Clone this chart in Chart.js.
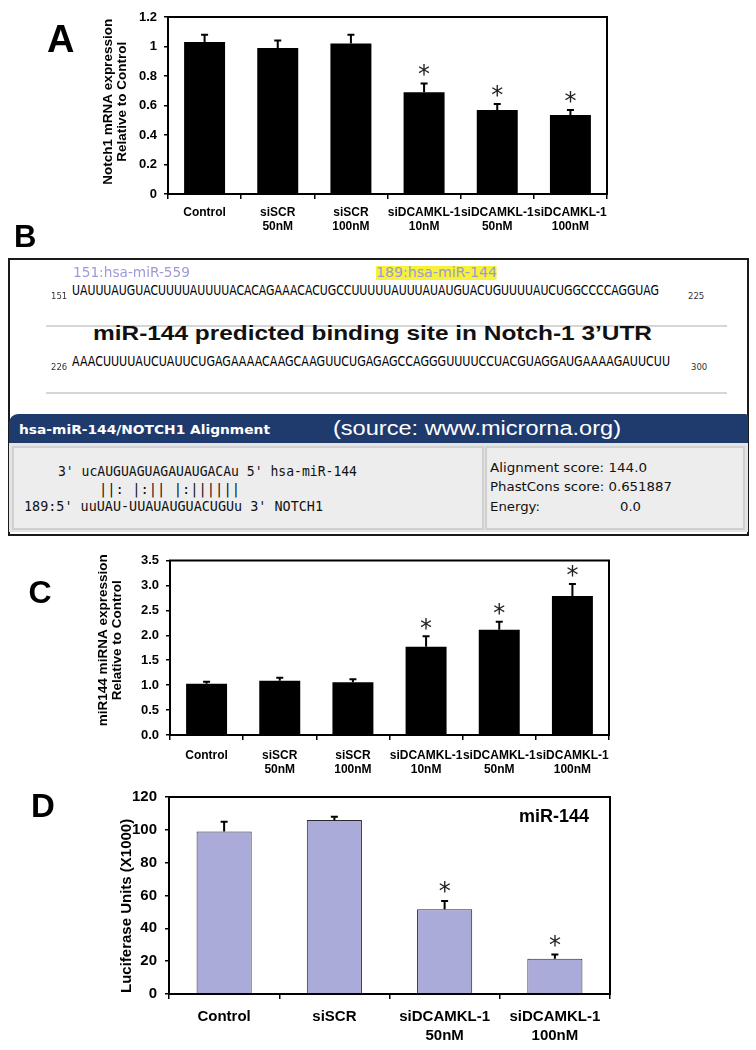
<!DOCTYPE html>
<html>
<head>
<meta charset="utf-8">
<script src="https://cdn.jsdelivr.net/npm/chart.js@4.4.1/dist/chart.umd.min.js"></script>
<style>
  body { margin: 0; background: #fff; }
  #page { position: relative; width: 756px; height: 1050px; overflow: hidden; font-family: 'Liberation Sans', Arial, sans-serif; -webkit-font-smoothing: antialiased; }
  .abs { position: absolute; white-space: pre; line-height: 1; transform-origin: left center; }
  .box { position: absolute; box-sizing: border-box; }
  canvas { position: absolute; left: 0; }
</style>
</head>
<body>
<div id="page">
  <canvas id="chartA" width="756" height="240" style="top:0"></canvas>
  <canvas id="chartC" width="756" height="240" style="top:540px"></canvas>
  <canvas id="chartD" width="756" height="270" style="top:780px"></canvas>
</div>
<script>
// Panel A - Notch1 mRNA
const groups6 = ['Control', ['siSCR', '50nM'], ['siSCR', '100nM'], ['siDCAMKL-1', '10nM'], ['siDCAMKL-1', '50nM'], ['siDCAMKL-1', '100nM']];
const notchMean = [1.03, 0.99, 1.02, 0.69, 0.57, 0.535];
const notchSd = [0.05, 0.05, 0.06, 0.06, 0.04, 0.035];
const notchSig = [false, false, false, true, true, true];
const notchTicks = ['0', '0.2', '0.4', '0.6', '0.8', '1', '1.2'];

// Panel C - miR144 miRNA
const mirMean = [1.03, 1.09, 1.06, 1.77, 2.11, 2.79];
const mirSd = [0.04, 0.06, 0.06, 0.21, 0.16, 0.24];
const mirSig = [false, false, false, true, true, true];
const mirTicks = ['0.0', '0.5', '1.0', '1.5', '2.0', '2.5', '3.0', '3.5'];

// Panel D - luciferase
const lucGroups = ['Control', 'siSCR', ['siDCAMKL-1', '50nM'], ['siDCAMKL-1', '100nM']];
const lucMean = [99, 106, 51.7, 21.5];
const lucSd = [6, 2, 5, 2.5];
const lucSig = [false, false, true, true];
const lucTicks = ['0', '20', '40', '60', '80', '100', '120'];

const ARIAL = "'Liberation Sans', Arial, sans-serif";

// whiskers + significance stars, placed with the chart's own y scale
const errorBars = {
  id: 'errorBars',
  afterDatasetsDraw(chart, args, opts) {
    const ctx = chart.ctx;
    const y = chart.scales.y;
    const vals = chart.data.datasets[0].data;
    ctx.save();
    ctx.strokeStyle = opts.color;
    ctx.lineWidth = opts.lineWidth;
    chart.getDatasetMeta(0).data.forEach((bar, i) => {
      const top = y.getPixelForValue(vals[i] + opts.sd[i]);
      ctx.beginPath();
      ctx.moveTo(bar.x, bar.y);
      ctx.lineTo(bar.x, top);
      ctx.moveTo(bar.x - opts.cap, top);
      ctx.lineTo(bar.x + opts.cap, top);
      ctx.stroke();
      if (opts.sig[i]) {
        ctx.font = opts.starSize + "px 'DejaVu Sans', sans-serif";
        ctx.fillStyle = '#222';
        ctx.textAlign = 'center';
        const m = ctx.measureText('*');
        const cy = top - opts.starGap;
        ctx.fillText('*', bar.x, cy + (m.actualBoundingBoxAscent - m.actualBoundingBoxDescent) / 2);
      }
    });
    ctx.restore();
  }
};

// closed box round the plot area
const frame = {
  id: 'frame',
  afterDraw(chart) {
    const { left, top, right, bottom } = chart.chartArea;
    const ctx = chart.ctx;
    ctx.save();
    ctx.strokeStyle = '#000';
    ctx.lineWidth = 2;
    ctx.strokeRect(left, top, right - left, bottom - top);
    ctx.restore();
  }
};

Chart.register(errorBars, frame);

function barChart(id, o) {
  return new Chart(document.getElementById(id), {
    type: 'bar',
    data: {
      labels: o.labels,
      datasets: [{
        data: o.values,
        backgroundColor: o.fill,
        borderColor: o.edge,
        borderWidth: o.edgeWidth,
        barPercentage: o.barPct,
        categoryPercentage: 1
      }]
    },
    options: {
      responsive: false,
      animation: false,
      layout: { padding: { left: o.left, top: o.top, right: o.right, bottom: 0 } },
      plugins: {
        legend: { display: false },
        tooltip: { enabled: false },
        errorBars: { sd: o.sd, sig: o.sig, color: '#000', lineWidth: 2, cap: 3.5, starSize: o.starSize, starGap: o.starGap }
      },
      scales: {
        x: {
          offset: true,
          grid: { offset: true, drawOnChartArea: false, tickLength: 5, color: '#000', lineWidth: 1.5 },
          border: { color: '#000', width: 2 },
          ticks: {
            color: '#000', padding: o.xPad, maxRotation: 0, minRotation: 0, autoSkip: false,
            font: { family: ARIAL, size: o.xFont, weight: 'bold', lineHeight: o.xLine + 'px' }
          },
          afterFit: (s) => { s.height = o.xHeight; }
        },
        y: {
          min: 0,
          max: o.max,
          ticks: {
            stepSize: o.step,
            color: '#000',
            padding: o.yPad,
            callback: (v, i) => o.ticks[i],
            font: { family: ARIAL, size: o.yFont, weight: 'bold' }
          },
          grid: { drawOnChartArea: false, tickLength: 4, color: '#000', lineWidth: 1.5 },
          border: { color: '#000', width: 2 },
          title: {
            display: true,
            text: o.title,
            color: '#000',
            padding: 0,
            font: { family: ARIAL, size: o.titleFont, weight: 'bold', lineHeight: o.titleLine + 'px' }
          },
          afterFit: (s) => { s.width = o.yWidth; }
        }
      }
    }
  });
}

barChart('chartA', {
  labels: groups6, values: notchMean, sd: notchSd, sig: notchSig, ticks: notchTicks,
  max: 1.2, step: 0.2, fill: '#000', edge: '#000', edgeWidth: 0, barPct: 0.56,
  left: 102, top: 17, right: 149, yWidth: 66, xHeight: 46,
  xFont: 12, xLine: 14, xPad: 7, yFont: 13, yPad: 7,
  title: ['  Notch1 mRNA expression', '  Relative to Control'], titleFont: 13.5, titleLine: 13.5,
  starSize: 24, starGap: 13
});

barChart('chartC', {
  labels: groups6, values: mirMean, sd: mirSd, sig: mirSig, ticks: mirTicks,
  max: 3.5, step: 0.5, fill: '#000', edge: '#000', edgeWidth: 0, barPct: 0.56,
  left: 96, top: 20.5, right: 147, yWidth: 74, xHeight: 45,
  xFont: 12, xLine: 14, xPad: 9, yFont: 13, yPad: 7,
  title: ['    miR144 miRNA expression', '    Relative to Control'], titleFont: 13.5, titleLine: 14,
  starSize: 24, starGap: 12.5
});

barChart('chartD', {
  labels: lucGroups, values: lucMean, sd: lucSd, sig: lucSig, ticks: lucTicks,
  max: 120, step: 20, fill: '#aaabd8', edge: '#2a2a2a', edgeWidth: 1, barPct: 0.5,
  left: 119.5, top: 15, right: 146, yWidth: 49.5, xHeight: 56,
  xFont: 15, xLine: 19, xPad: 8.5, yFont: 15, yPad: 8,
  title: 'Luciferase Units (X1000)     ', titleFont: 15, titleLine: 15,
  starSize: 24, starGap: 14
});

// ---- HTML parts: panel letters and the microrna.org panel B
const page = document.getElementById('page');

function box(x, y, w, h, css) {
  const d = document.createElement('div');
  d.className = 'box';
  d.style.cssText = `left:${x}px;top:${y}px;width:${w}px;height:${h}px;` + (css || '');
  page.appendChild(d);
  return d;
}

function txt(s, x, cy, size, css, fitW) {
  const d = document.createElement('div');
  d.className = 'abs';
  d.textContent = s;
  d.style.cssText = `left:${x}px;top:${cy - 0.486 * size}px;font-size:${size}px;` + (css || '');
  if (fitW) d.dataset.w = fitW;
  page.appendChild(d);
  return d;
}

txt('A', 47, 38.7, 38, 'font-weight:bold');
txt('B', 14, 236, 31, 'font-weight:bold');
txt('C', 28.5, 591.5, 32, 'font-weight:bold');
txt('D', 31, 805, 33, 'font-weight:bold');
txt('miR-144', 519, 817, 17.5, 'font-weight:bold', 70);

const SANS = "font-family:'DejaVu Sans', Verdana, sans-serif;";
const NARROW = "font-family:'Liberation Sans Narrow', 'DejaVu Sans Condensed', 'Arial Narrow', sans-serif;";
const MONO = "font-family:'DejaVu Sans Mono', monospace;";

box(8, 258, 741, 278, 'border:2px solid #1a1a1a;background:#fff;');

txt('151:hsa-miR-559', 73, 273, 13.5, SANS + 'color:#9c9cd4;', 117);
txt('189:hsa-miR-144', 376, 273, 13.5, SANS + 'color:#9c9cd4;background:#f7f13a;', 121);

txt('UAUUUAUGUACUUUUAUUUUACACAGAAACACUGCCUUUUUAUUUAUAUGUACUGUUUUAUCUGGCCCCAGGUAG', 72, 291, 13.5, NARROW + 'color:#000;', 587);
txt('151', 51, 296, 8.5, SANS + 'color:#333;');
txt('225', 688, 296, 8.5, SANS + 'color:#333;');
box(46, 325, 681, 2, 'background:#d6d6d6;');

txt('miR-144 predicted binding site in Notch-1 3\u2019UTR', 93, 332, 21, 'font-weight:bold;color:#111;', 559);

txt('AAACUUUUAUCUAUUCUGAGAAAACAAGCAAGUUCUGAGAGCCAGGGUUUUCCUACGUAGGAUGAAAAGAUUCUU', 72, 362, 13.5, NARROW + 'color:#000;', 598);
txt('226', 51, 367, 8.5, SANS + 'color:#333;');
txt('300', 691, 367, 8.5, SANS + 'color:#333;');
box(46, 392, 681, 2, 'background:#d6d6d6;');

box(9, 414, 739, 29, 'background:#1f3b6e;border-top-left-radius:9px;border-top-right-radius:3px;');
txt('hsa-miR-144/NOTCH1 Alignment', 19, 430, 12.5, SANS + 'font-weight:bold;color:#fff;', 251);
txt('(source: www.microrna.org)', 333, 428, 20, 'color:#fff;', 288);

box(9, 443, 739, 89, 'background:#e4e4e4;');
box(12, 446, 472, 84, 'background:#ededed;border:2px solid #d0d0d0;');
box(485, 446, 260, 84, 'background:#ededed;border:2px solid #d0d0d0;');

txt("3' ucAUGUAGUAGAUAUGACAu 5' hsa-miR-144", 57.5, 472, 13.5, MONO + 'color:#111;', 299);
txt('||: |:|| |:||||||', 98.5, 490, 13.5, MONO + 'color:#111;', 141);
txt("189:5' uuUAU-UUAUAUGUACUGUu 3' NOTCH1", 24, 507, 13.5, MONO + 'color:#111;', 299);

txt('Alignment score: 144.0', 490, 468, 12.5, SANS + 'color:#111;', 157);
txt('PhastCons score: 0.651887', 490, 487, 12.5, SANS + 'color:#111;', 182);
txt('Energy:', 490, 507, 12.5, SANS + 'color:#111;', 50);
txt('0.0', 620, 507, 12.5, SANS + 'color:#111;', 21);

// squeeze or stretch each measured line to the width it has in the figure
document.querySelectorAll('[data-w]').forEach((el) => {
  const w = el.getBoundingClientRect().width;
  if (w > 0) el.style.transform = 'scaleX(' + (el.dataset.w / w) + ')';
});
</script>
</body>
</html>
